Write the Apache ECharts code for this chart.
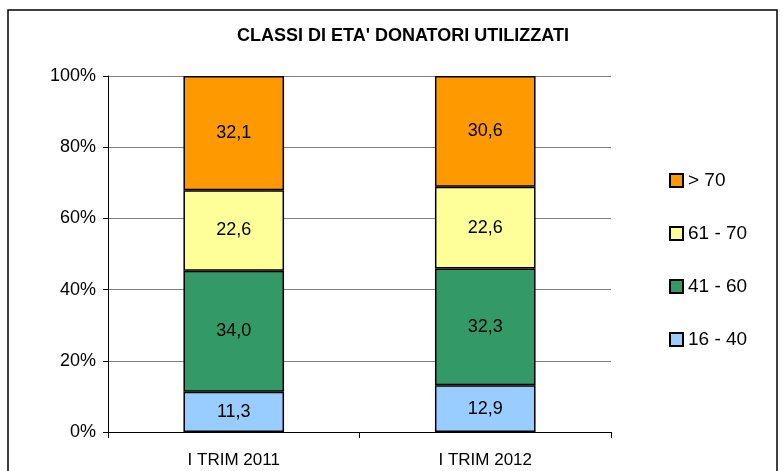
<!DOCTYPE html>
<html>
<head>
<meta charset="utf-8">
<script src="https://cdn.jsdelivr.net/npm/echarts@6/dist/echarts.min.js"></script>
<style>
  html, body { margin: 0; padding: 0; background: #fff; }
  #main { width: 783px; height: 471px; }
</style>
</head>
<body>
<div id="main"></div>
<script>
// dati
var categories = ['I TRIM 2011', 'I TRIM 2012'];
var classi = ['16 - 40', '41 - 60', '61 - 70', '> 70'];
var colori = ['#99CCFF', '#339966', '#FFFF99', '#FF9900'];
var v1640 = [11.3, 12.9];
var v4160 = [34.0, 32.3];
var v6170 = [22.6, 22.6];
var vOver70 = [32.1, 30.6];
var yTicks = [0, 20, 40, 60, 80, 100];

var valori = [v1640, v4160, v6170, vOver70];

// totale per colonna, per il 100% in pila
var totali = categories.map(function (c, i) {
  return valori.reduce(function (s, arr) { return s + arr[i]; }, 0);
});

var series = classi.map(function (nome, k) {
  return {
    name: nome,
    type: 'bar',
    stack: 'tot',
    barWidth: '40%',
    data: valori[k].map(function (v, i) {
      return { value: v / totali[i] * 100, raw: v };
    }),
    itemStyle: {
      color: colori[k],
      borderColor: '#000',
      borderWidth: 1.5
    },
    label: {
      show: true,
      position: 'inside',
      color: '#000',
      fontSize: 18,
      fontFamily: 'Liberation Sans, Arial',
      formatter: function (p) {
        return p.data.raw.toFixed(1).replace('.', ',');
      }
    }
  };
});

var myChart = echarts.init(document.getElementById('main'));
myChart.setOption({
  backgroundColor: '#fff',
  animation: false,
  title: {
    text: "CLASSI DI ETA' DONATORI UTILIZZATI",
    left: 232,
    top: 22,
    textStyle: {
      fontFamily: 'Liberation Sans, Arial',
      fontSize: 18,
      fontWeight: 'bold',
      color: '#000'
    }
  },
  graphic: [{
    type: 'rect',
    shape: { x: 8, y: 10, width: 769, height: 470 },
    style: { fill: null, stroke: '#000', lineWidth: 1.5 },
    silent: true
  }],
  legend: {
    orient: 'vertical',
    left: 664,
    top: 166,
    itemGap: 34,
    itemWidth: 13,
    itemHeight: 13,
    icon: 'rect',
    data: ['> 70', '61 - 70', '41 - 60', '16 - 40'],
    textStyle: {
      fontFamily: 'Liberation Sans, Arial',
      fontSize: 19,
      color: '#000',
      padding: [0, 0, 0, 0]
    }
  },
  grid: {
    left: 108,
    right: 172,
    top: 76,
    bottom: 39,
    containLabel: false
  },
  xAxis: {
    type: 'category',
    data: categories,
    axisLine: { lineStyle: { color: '#000', width: 1 } },
    axisTick: { show: true, length: 6, lineStyle: { color: '#000' } },
    axisLabel: {
      color: '#000',
      fontSize: 17,
      margin: 20,
      fontFamily: 'Liberation Sans, Arial'
    }
  },
  yAxis: {
    type: 'value',
    min: yTicks[0],
    max: yTicks[yTicks.length - 1],
    interval: 20,
    axisLine: { show: true, lineStyle: { color: '#000', width: 1 } },
    axisTick: { show: true, length: 5, lineStyle: { color: '#000' } },
    axisLabel: {
      color: '#000',
      fontSize: 18,
      margin: 12,
      fontFamily: 'Liberation Sans, Arial',
      formatter: '{value}%'
    },
    splitLine: { show: true, lineStyle: { color: '#808080', width: 1 } }
  },
  series: series
});
</script>
</body>
</html>
